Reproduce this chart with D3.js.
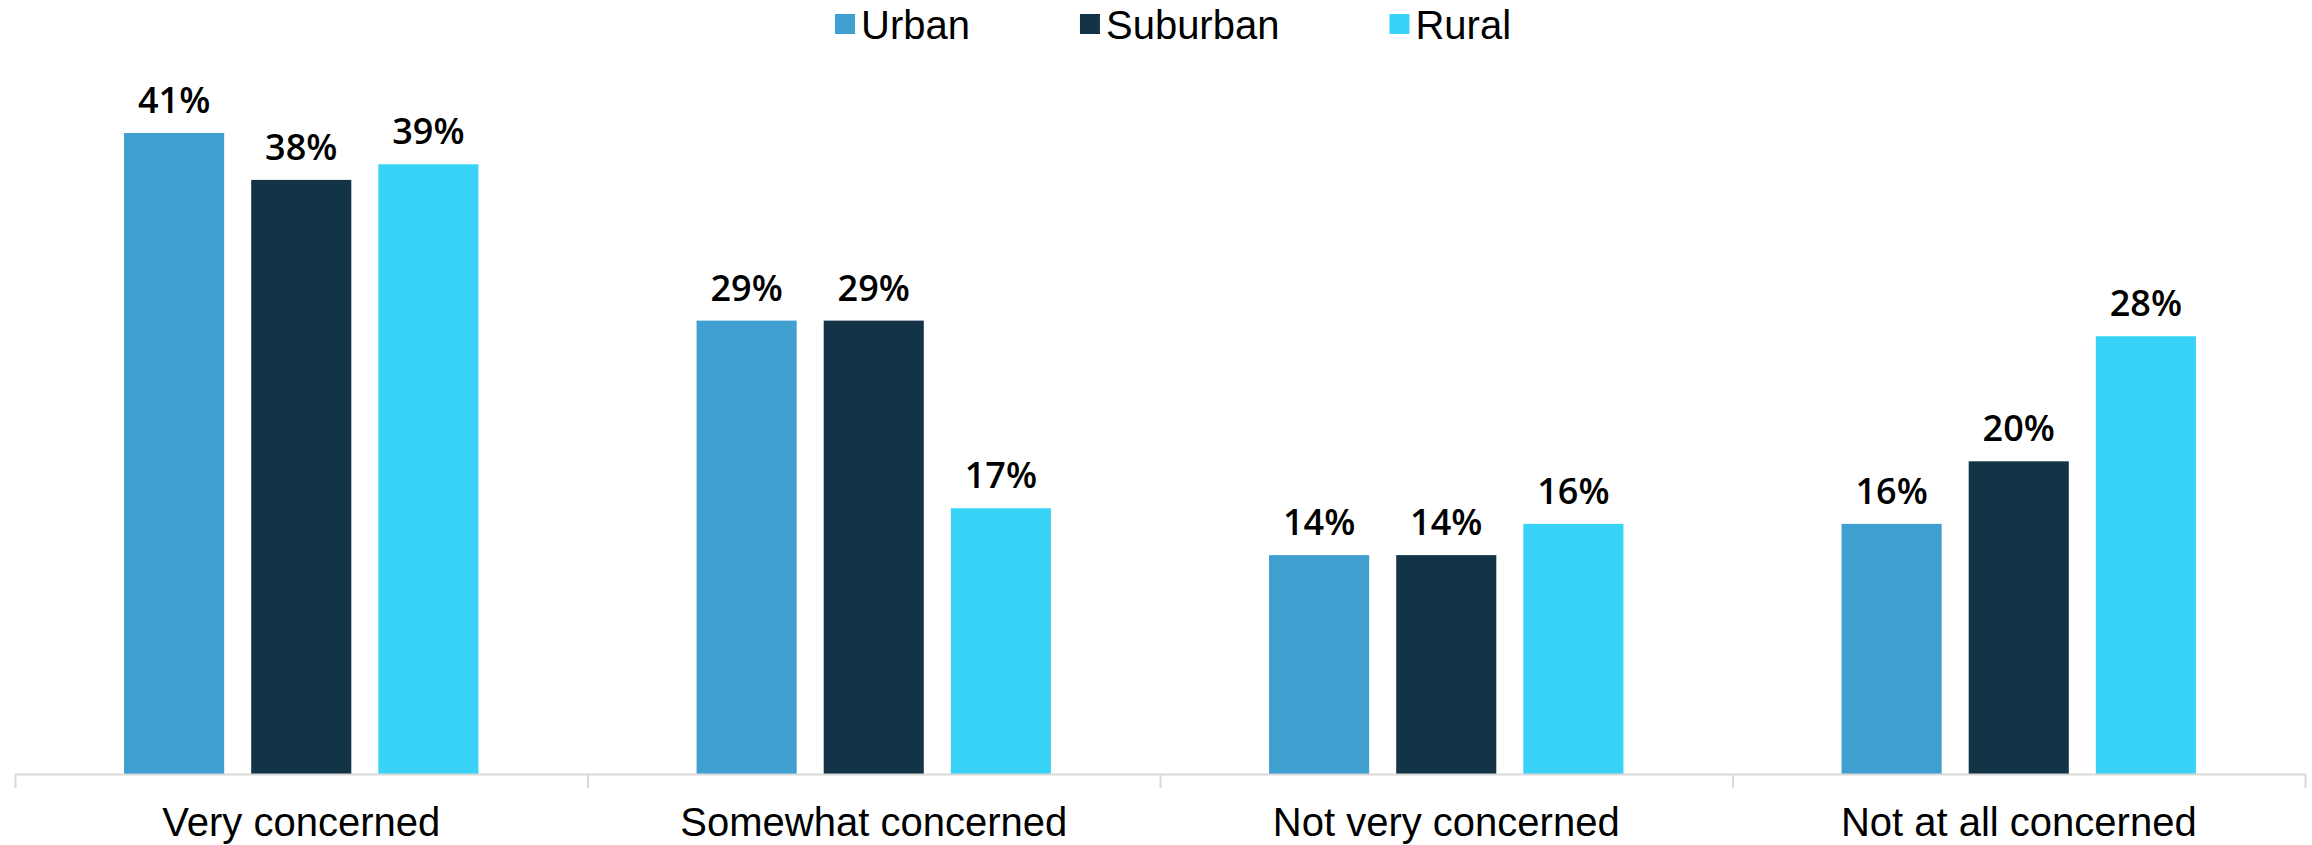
<!DOCTYPE html>
<html lang="en">
<head>
    <meta charset="UTF-8">
    <title>Concern by community type</title>
    <style>
        html, body {
            margin: 0;
            padding: 0;
            background: #fff;
        }
        svg {
            display: block;
        }
    </style>
</head>
<body>
    <script src="https://d3js.org/d3.v7.min.js"></script>
    <script>
        const W = 2312
        const H = 845

        const categories = ['Very concerned', 'Somewhat concerned', 'Not very concerned', 'Not at all concerned']
        const seriesNames = ['Urban', 'Suburban', 'Rural']
        const urban = [41, 29, 14, 16]
        const suburban = [38, 29, 14, 20]
        const rural = [39, 17, 16, 28]
        const colors = ['#409fd1', '#133347', '#38d3f6']

        const seriesValues = [urban, suburban, rural]

        const baseY = 774
        const left = 15
        const right = 2305

        const svg = d3.select('body')
            .append('svg')
            .attr('width', W)
            .attr('height', H)

        // category bands, then bars inside each band
        const x0 = d3.scaleBand()
            .domain(categories)
            .range([left, right])
            .padding(0)

        const x1 = d3.scaleBand()
            .domain(seriesNames)
            .range([0, x0.bandwidth()])
            .paddingInner(0.2126)
            .paddingOuter(0.858)

        const y = d3.scaleLinear()
            .domain([0, 41])
            .range([baseY, 133])

        const rows = []
        categories.forEach((c, ci) => {
            seriesNames.forEach((s, si) => {
                rows.push({ cat: c, series: s, si: si, value: seriesValues[si][ci] })
            })
        })

        svg.append('g')
            .selectAll('rect')
            .data(rows)
            .enter()
            .append('rect')
            .attr('x', d => x0(d.cat) + x1(d.series))
            .attr('y', d => y(d.value))
            .attr('width', x1.bandwidth())
            .attr('height', d => baseY - y(d.value))
            .attr('fill', d => colors[d.si])

        svg.append('g')
            .selectAll('text')
            .data(rows)
            .enter()
            .append('text')
            .attr('x', d => x0(d.cat) + x1(d.series) + x1.bandwidth() / 2)
            .attr('y', d => y(d.value) - 20)
            .attr('text-anchor', 'middle')
            .attr('font-family', '"Open Sans", sans-serif')
            .attr('font-weight', 600)
            .attr('font-size', 36)
            .attr('fill', '#000')
            .text(d => d.value + '%')

        // axis line with separators between categories
        const sep = d3.scaleLinear()
            .domain([0, categories.length])
            .range([left, right])

        const sepAxis = svg.append('g')
            .attr('transform', `translate(0, ${baseY})`)
            .call(d3.axisBottom(sep).ticks(categories.length).tickSize(14).tickFormat('').tickSizeOuter(0))
        sepAxis.selectAll('path, line')
            .attr('stroke', '#d9d9d9')
            .attr('stroke-width', 2)

        const catAxis = svg.append('g')
            .attr('transform', `translate(0, ${baseY})`)
            .call(d3.axisBottom(x0).tickSize(0).tickPadding(34))
        catAxis.select('.domain').remove()
        catAxis.selectAll('text')
            .attr('font-family', '"Liberation Sans", Arial, sans-serif')
            .attr('font-size', 40)
            .attr('fill', '#000')
            .attr('dy', '0.7em')

        // legend
        const legend = svg.append('g')
        let lx = 835
        seriesNames.forEach((s, i) => {
            legend.append('rect')
                .attr('x', lx)
                .attr('y', 14)
                .attr('width', 20)
                .attr('height', 20)
                .attr('fill', colors[i])
            const t = legend.append('text')
                .attr('x', lx + 26)
                .attr('y', 39)
                .attr('font-family', '"Liberation Sans", Arial, sans-serif')
                .attr('font-size', 40)
                .attr('fill', '#000')
                .text(s)
            lx += 26 + t.node().getComputedTextLength() + 110
        })
    </script>
</body>
</html>
